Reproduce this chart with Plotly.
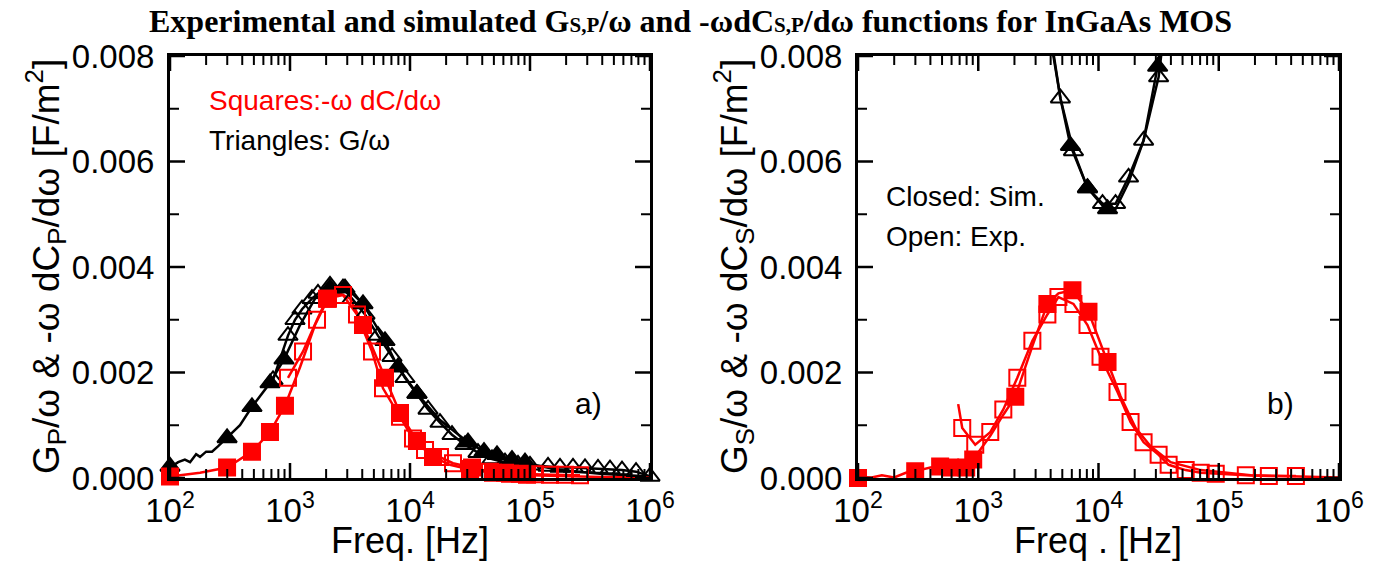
import plotly.graph_objects as go

# ---------------- Panel a) (parallel) ----------------
# simulated G/omega (black line + filled triangles)
fa_gsim_line = [100, 117, 133, 147, 165, 178, 200, 224, 251, 299, 383, 482, 584, 681, 891, 1212, 1616, 2154, 2873,
                3286, 4058, 6190, 7943, 11430, 17780, 30430, 41380, 53090, 70790, 90850, 177800, 383100, 1000000]
ga_gsim_line = [0.0002, 0.0003, 0.00035, 0.0003, 0.00045, 0.0004, 0.0005, 0.0005, 0.0006, 0.00076, 0.001, 0.00135,
                0.0016, 0.0018, 0.00225, 0.0029, 0.0034, 0.0036, 0.0036, 0.0035, 0.0033, 0.0026, 0.0021, 0.0016,
                0.0011, 0.00068, 0.0005, 0.00042, 0.00034, 0.00028, 0.00015, 0.00008, 0.00003]
fa_gsim = [100, 299, 482, 681, 891, 2154, 2873, 4058, 6190, 7943, 11430, 30430, 41380, 53090, 70790, 90850]
ga_gsim = [0.00022, 0.00076, 0.00135, 0.0018, 0.00225, 0.0036, 0.0036, 0.0033, 0.0026, 0.0021, 0.0016,
           0.00068, 0.0005, 0.00044, 0.00035, 0.0003]
# experimental G/omega (open triangles)
fa_gexp = [722, 962, 1101, 1259, 1525, 1711, 2154, 2765, 3286, 4217, 5412, 7079, 9085, 11430, 14130, 17780,
           22390, 28730, 36860, 48230, 61900, 79430, 100000, 141300, 177800, 228200, 287300, 368700, 464200,
           584300, 764800, 1000000]
ga_gexp = [0.00186, 0.0027, 0.0030, 0.0032, 0.0034, 0.0035, 0.00365, 0.0036, 0.0034, 0.0031, 0.0027, 0.0023,
           0.0019, 0.0016, 0.0013, 0.00105, 0.00082, 0.00063, 0.00048, 0.00036, 0.0003, 0.00026, 0.00024,
           0.00022, 0.0002, 0.0002, 0.00019, 0.00018, 0.00017, 0.00015, 0.00012, 0.00003]
# simulated -w dC/dw (red line + filled squares)
fa_csim_line = [100, 178, 299, 482, 681, 908, 1212, 1616, 2073, 2610, 3162, 4058, 6190, 8254, 11430, 15550,
                21540, 31620, 49170, 100000, 383100, 1000000]
ca_csim_line = [0.00003, 0.0001, 0.0002, 0.0005, 0.00087, 0.00137, 0.0021, 0.0029, 0.0034, 0.0035, 0.0034,
                0.0029, 0.0019, 0.00123, 0.0007, 0.0004, 0.00025, 0.00016, 0.0001, 0.00005, 0.00002, 0.00001]
fa_csim = [100, 299, 482, 681, 908, 2073, 4058, 6190, 8254, 11430, 15550, 31620, 49170, 68130, 94410]
ca_csim = [0.00003, 0.0002, 0.0005, 0.00087, 0.00137, 0.0034, 0.0029, 0.0019, 0.00123, 0.0007, 0.0004,
           0.00017, 0.0001, 0.00008, 0.00006]
# experimental -w dC/dw (open squares)
fa_cexp = [962, 1284, 1679, 2033, 2765, 3616, 4823, 5957, 8254, 10590, 13340, 17780, 22820, 32860, 46420,
           61900, 82540, 110100, 146800, 195700, 261000]
ca_cexp = [0.0019, 0.0024, 0.0030, 0.0034, 0.00347, 0.0031, 0.0024, 0.0017, 0.00116, 0.00075, 0.00053,
           0.0004, 0.00028, 0.0002, 0.00012, 0.0001, 0.00008, 0.00007, 0.00006, 0.00006, 0.00005]

# ---------------- Panel b) (series) ----------------
fb_gsim_line = [3616, 4217, 4823, 5843, 8099, 10390, 11890, 13860, 17780, 23710, 31030, 34150]
gb_gsim_line = [0.0088, 0.0080, 0.0072, 0.0063, 0.0055, 0.0052, 0.00505, 0.0051, 0.0056, 0.0064, 0.0078, 0.0085]
fb_gsim = [5843, 8099, 11890, 31030]
gb_gsim = [0.0063, 0.0055, 0.0051, 0.0078]
fb_gexp = [3758, 4823, 6190, 8099, 10800, 13860, 17780, 23710, 31620, 38310]
gb_gexp = [0.0088, 0.0072, 0.0062, 0.0055, 0.0052, 0.0052, 0.0057, 0.0064, 0.0076, 0.0092]

fb_csim_line = [100, 130, 158, 200, 250, 299, 400, 482, 584, 794, 908, 1259, 1616, 2033, 2818, 3758, 4642,
                6072, 8254, 11890, 15250, 20330, 27120, 39810, 70790, 184800, 1000000]
cb_csim_line = [0.00002, 0.00001, 0.00005, 0.00001, 0.0001, 0.00013, 0.0002, 0.00022, 0.0002, 0.0002, 0.00035,
                0.0008, 0.0012, 0.00154, 0.0025, 0.0033, 0.0035, 0.00356, 0.00315, 0.0022, 0.00155, 0.00095,
                0.0006, 0.0003, 0.00015, 0.00005, 0.00001]
fb_csim = [100, 299, 482, 584, 794, 908, 2033, 3758, 6072, 8254, 11890]
cb_csim = [0.0, 0.00013, 0.00022, 0.0002, 0.0002, 0.00035, 0.00154, 0.0033, 0.00356, 0.00315, 0.0022]
fb_cexp_lead = [681]
cb_cexp_lead = [0.0014]
fb_cexp = [736, 944, 1259, 1616, 2113, 2818, 3758, 4642, 6190, 8099, 10390, 14390, 18480, 23710, 31620, 38310,
           53090, 70790, 94410, 167900, 261000, 438100]
cb_cexp = [0.00095, 0.00063, 0.00087, 0.0013, 0.0019, 0.0026, 0.0031, 0.00343, 0.0033, 0.0029, 0.0023, 0.00163,
           0.00106, 0.00068, 0.00044, 0.00025, 0.00015, 0.0001, 0.00008, 0.00005, 0.00004, 0.00004]

x_tickvals = [1e2, 1e3, 1e4, 1e5, 1e6]
x_ticktext = ["10<sup>2</sup>", "10<sup>3</sup>", "10<sup>4</sup>", "10<sup>5</sup>", "10<sup>6</sup>"]
x_minorvals = [m * d for d in (1e2, 1e3, 1e4, 1e5) for m in range(2, 10)]
y_tickvals = [0, 0.002, 0.004, 0.006, 0.008]
y_ticktext = ["0.000", "0.002", "0.004", "0.006", "0.008"]
y_minorvals = [0.001, 0.003, 0.005, 0.007]

RED = "#ff0000"
BLK = "#000000"
FONT = "Liberation Sans, Arial, sans-serif"

fig = go.Figure()


def line(x, y, color, xa, ya, clip=True):
    fig.add_trace(go.Scatter(x=x, y=y, mode="lines", line=dict(color=color, width=2.5),
                             xaxis=xa, yaxis=ya, showlegend=False, hoverinfo="skip", cliponaxis=clip))


def marks(x, y, color, sym, size, xa, ya, clip=False):
    fig.add_trace(go.Scatter(x=x, y=y, mode="markers",
                             marker=dict(symbol=sym, size=size, color=color,
                                         line=dict(color=color, width=2)),
                             xaxis=xa, yaxis=ya, showlegend=False, cliponaxis=clip))


# panel a
line(fa_gsim_line, ga_gsim_line, BLK, "x", "y")
line(fa_gexp, ga_gexp, BLK, "x", "y")
line(fa_csim_line, ca_csim_line, RED, "x", "y")
line(fa_cexp, ca_cexp, RED, "x", "y")
marks(fa_gexp, ga_gexp, BLK, "triangle-up-open", 17, "x", "y")
marks(fa_gsim, ga_gsim, BLK, "triangle-up", 17, "x", "y")
marks(fa_cexp, ca_cexp, RED, "square-open", 16, "x", "y")
marks(fa_csim, ca_csim, RED, "square", 16, "x", "y")

# panel b
line(fb_gsim_line, gb_gsim_line, BLK, "x2", "y2")
line(fb_gexp, gb_gexp, BLK, "x2", "y2")
line(fb_csim_line, cb_csim_line, RED, "x2", "y2")
line(fb_cexp_lead + fb_cexp, cb_cexp_lead + cb_cexp, RED, "x2", "y2")
marks(fb_gexp, gb_gexp, BLK, "triangle-up-open", 17, "x2", "y2", clip=True)
marks(fb_gsim, gb_gsim, BLK, "triangle-up", 17, "x2", "y2", clip=True)
marks(fb_csim, cb_csim, RED, "square", 16, "x2", "y2")
marks(fb_cexp, cb_cexp, RED, "square-open", 16, "x2", "y2")

W, H = 1387, 567
xdomA = [170 / W, 650 / W]
xdomB = [858 / W, 1339 / W]
ydom = [1 - 478 / H, 1 - 56 / H]
PW = 480.0   # plot width in px
PH = 422.0   # plot height in px

TICKFONT = dict(family=FONT, size=33, color=BLK)
xcommon = dict(type="log", range=[2, 6], showline=True, linewidth=3, linecolor=BLK, mirror=True,
               ticks="", automargin=False,
               tickmode="array", tickvals=x_tickvals, ticktext=x_ticktext, tickfont=TICKFONT,
               ticklabelstandoff=1, showgrid=False, zeroline=False)
ycommon = dict(range=[0, 0.008], showline=True, linewidth=3, linecolor=BLK, mirror=True,
               ticks="", automargin=False,
               tickmode="array", tickvals=y_tickvals, ticktext=y_ticktext, tickfont=TICKFONT,
               ticklabelstandoff=6, showgrid=False, zeroline=False)

fig.update_layout(
    width=W, height=H, margin=dict(l=0, r=0, t=0, b=0, autoexpand=False),
    paper_bgcolor="white", plot_bgcolor="white",
    xaxis=dict(domain=xdomA, anchor="y", **xcommon),
    yaxis=dict(domain=ydom, anchor="x", **ycommon),
    xaxis2=dict(domain=xdomB, anchor="y2", **xcommon),
    yaxis2=dict(domain=ydom, anchor="x2", **ycommon),
)

# inward tick marks on all four sides, placed by the axes themselves
shapes = []
MAJ, MIN = 15.0, 9.0
for xa, ya in (("x", "y"), ("x2", "y2")):
    for vals, ln, wd in ((x_tickvals, MAJ, 2.5), (x_minorvals, MIN, 2)):
        for v in vals:
            for base, sgn in ((0, 1), (1, -1)):
                shapes.append(dict(type="line", xref=xa, yref=ya + " domain", x0=v, x1=v,
                                   y0=base, y1=base + sgn * ln / PH, line=dict(color=BLK, width=wd)))
    for vals, ln, wd in ((y_tickvals, MAJ, 2.5), (y_minorvals, MIN, 2)):
        for v in vals:
            for base, sgn in ((0, 1), (1, -1)):
                shapes.append(dict(type="line", xref=xa + " domain", yref=ya, y0=v, y1=v,
                                   x0=base, x1=base + sgn * ln / PW, line=dict(color=BLK, width=wd)))
fig.update_layout(shapes=shapes)

ann = []
def txt(x, y, text, size, color=BLK, family=FONT, angle=0, xanchor="center"):
    ann.append(dict(x=x / W, y=1 - y / H, xref="paper", yref="paper", text=text, showarrow=False,
                    font=dict(family=family, size=size, color=color), textangle=angle,
                    xanchor=xanchor, yanchor="middle"))

txt(690, 21, "<b>Experimental and simulated G<span style='font-size:21px'>S,P</span>/ω and -ωdC"
             "<span style='font-size:21px'>S,P</span>/dω functions for InGaAs MOS</b>", 32,
    family="Liberation Serif, Times New Roman, serif")
txt(410, 540, "Freq. [Hz]", 36)
txt(1098, 540, "Freq . [Hz]", 36)
txt(45, 267, "G<sub>P</sub>/ω & -ω dC<sub>P</sub>/dω [F/m<sup>2</sup>]", 37, angle=-90)
txt(733, 267, "G<sub>S</sub>/ω & -ω dC<sub>S</sub>/dω [F/m<sup>2</sup>]", 37, angle=-90)
txt(207, 100, "Squares:-ω dC/dω", 28, color=RED, xanchor="left")
txt(207, 140, "Triangles: G/ω", 28, xanchor="left")
txt(884, 196, "Closed: Sim.", 28, xanchor="left")
txt(884, 236, "Open: Exp.", 28, xanchor="left")
txt(588, 403, "a)", 30)
txt(1280, 403, "b)", 30)
fig.update_layout(annotations=ann)

fig.write_html("out.html")
